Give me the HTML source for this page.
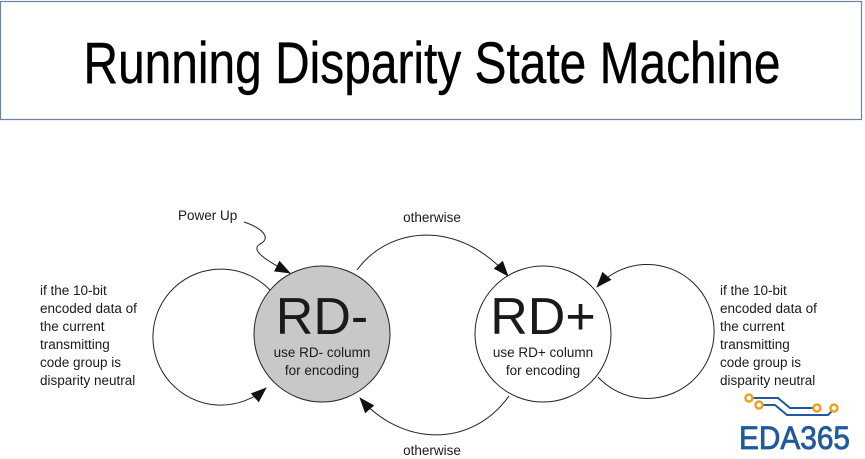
<!DOCTYPE html>
<html><head><meta charset="utf-8"><style>
html,body{margin:0;padding:0;background:#fff;}
svg{display:block;}
</style></head><body>
<svg width="865" height="459" viewBox="0 0 865 459" xmlns="http://www.w3.org/2000/svg" font-family="Liberation Sans, Arial, sans-serif">
<defs>
<marker id="ab" viewBox="0 0 16 12" markerWidth="16" markerHeight="12" refX="15" refY="6" orient="auto" markerUnits="userSpaceOnUse">
<path d="M0,0 L16,6 L0,12 z" fill="#111"/></marker>
</defs>
<rect x="0.5" y="1.5" width="861" height="118" fill="#fff" stroke="#6a84a0" stroke-width="1.2"/>
<text x="432" y="83" font-family="Liberation Sans Narrow, Liberation Sans, sans-serif" font-size="58" text-anchor="middle" textLength="697" lengthAdjust="spacingAndGlyphs" fill="#000" stroke="#000" stroke-width="0.4">Running Disparity State Machine</text>

<!-- loops -->
<path d="M270,290 A68,68 0 1 0 266,388" fill="none" stroke="#222" stroke-width="1" marker-end="url(#ab)"/>
<path d="M598,377 A67,67 0 1 0 597,287" fill="none" stroke="#222" stroke-width="1" marker-end="url(#ab)"/>

<!-- otherwise arcs -->
<path d="M357,270 C390,225 460,220 508,276" fill="none" stroke="#222" stroke-width="1" marker-end="url(#ab)"/>
<path d="M509,396 C470,450 400,445 360,398" fill="none" stroke="#222" stroke-width="1" marker-end="url(#ab)"/>

<!-- power up -->
<path d="M244,222 C262,228 272,238 260,244 C250,250 265,260 290,273" fill="none" stroke="#222" stroke-width="1" marker-end="url(#ab)"/>

<circle cx="322" cy="334" r="68" fill="#c8c8c8" stroke="#222" stroke-width="1"/>
<circle cx="543" cy="334" r="68" fill="#fff" stroke="#222" stroke-width="1"/>

<g fill="#1a1a1a">
<text x="322" y="334" font-size="52" text-anchor="middle">RD-</text>
<text x="322" y="357" font-size="13.5" text-anchor="middle">use RD- column</text>
<text x="322" y="375" font-size="13.5" text-anchor="middle">for encoding</text>
<text x="543" y="334" font-size="52" text-anchor="middle">RD+</text>
<text x="543" y="357" font-size="13.5" text-anchor="middle">use RD+ column</text>
<text x="543" y="375" font-size="13.5" text-anchor="middle">for encoding</text>
<text x="178" y="220" font-size="13.5">Power Up</text>
<text x="432" y="222" font-size="13.5" text-anchor="middle">otherwise</text>
<text x="432" y="455" font-size="13.5" text-anchor="middle">otherwise</text>
<g font-size="13.5">
<text x="40" y="295">if the 10-bit</text>
<text x="40" y="313">encoded data of</text>
<text x="40" y="331">the current</text>
<text x="40" y="349">transmitting</text>
<text x="40" y="367">code group is</text>
<text x="40" y="385">disparity neutral</text>
<text x="720" y="295">if the 10-bit</text>
<text x="720" y="313">encoded data of</text>
<text x="720" y="331">the current</text>
<text x="720" y="349">transmitting</text>
<text x="720" y="367">code group is</text>
<text x="720" y="385">disparity neutral</text>
</g>
</g>

<!-- logo -->
<g fill="none" stroke="#1f5a9e" stroke-width="2">
<path d="M752,398 L778,398 L790,408 L814,408"/>
<path d="M762,405 L775,405 L787,415 L828,415 L833,410"/>
</g>
<g fill="#fff" stroke="#f0a020" stroke-width="2.5">
<circle cx="749" cy="398" r="3.5"/>
<circle cx="759" cy="405" r="3.5"/>
<circle cx="817" cy="408" r="3.5"/>
<circle cx="834" cy="408" r="3.5"/>
</g>
<text x="739" y="449" font-size="32" fill="#1f5a9e" stroke="#1f5a9e" stroke-width="0.8" textLength="111" lengthAdjust="spacingAndGlyphs">EDA365</text>
</svg>
</body></html>
